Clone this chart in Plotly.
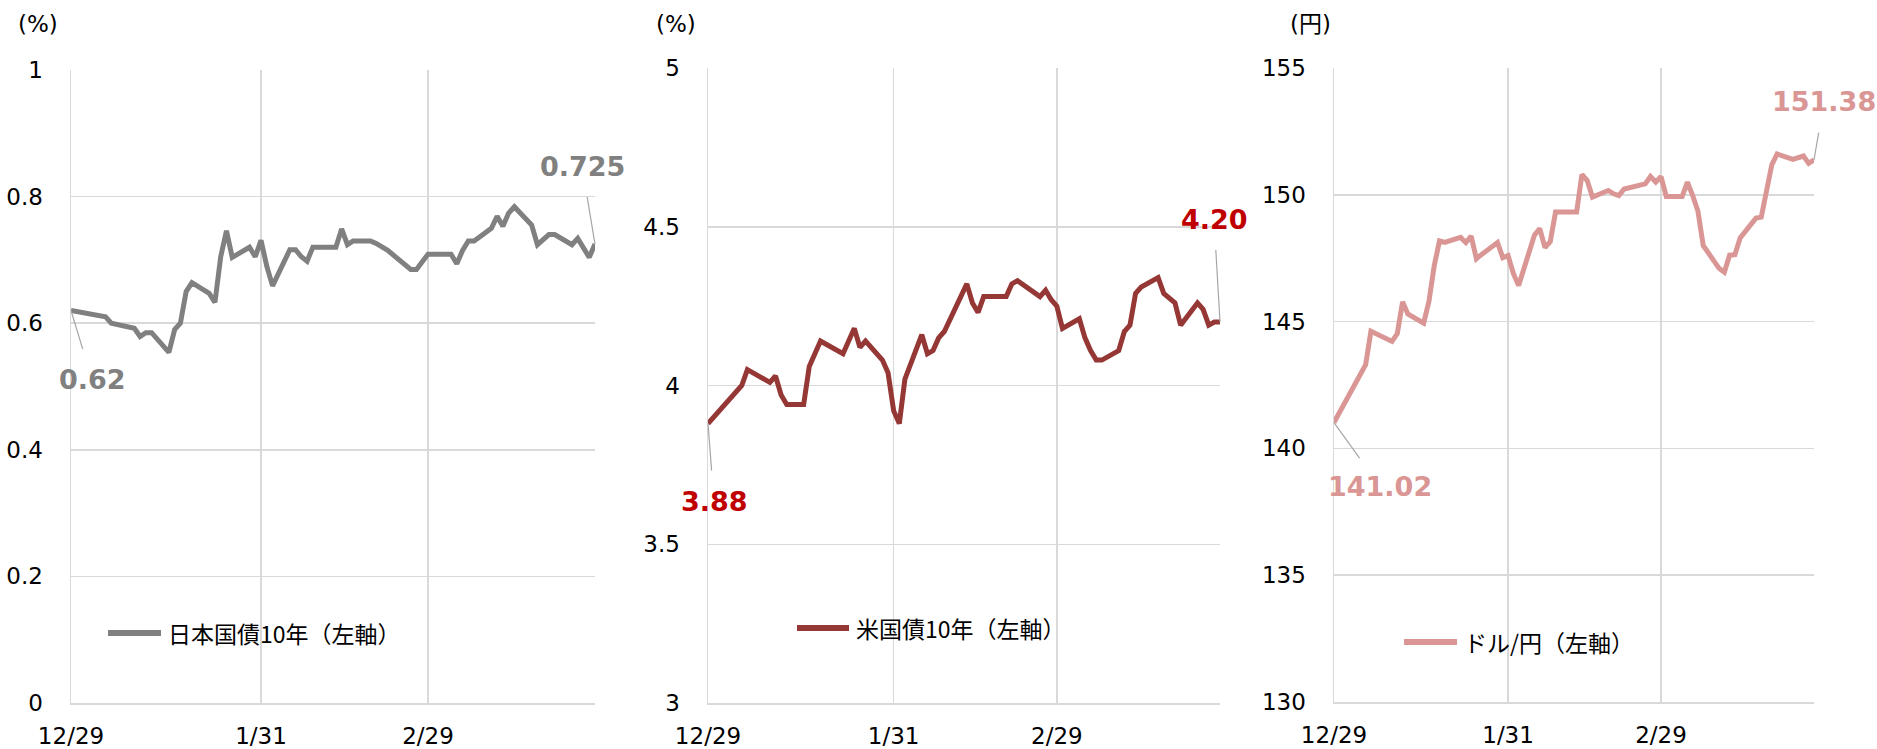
import plotly.graph_objects as go

# ---------------- data ----------------
dates = ["2023-12-29", "2024-01-04", "2024-01-05", "2024-01-09", "2024-01-10", "2024-01-11",
         "2024-01-12", "2024-01-15", "2024-01-16", "2024-01-17", "2024-01-18", "2024-01-19",
         "2024-01-22", "2024-01-23", "2024-01-24", "2024-01-25", "2024-01-26", "2024-01-29",
         "2024-01-30", "2024-01-31", "2024-02-01", "2024-02-02", "2024-02-05", "2024-02-06",
         "2024-02-07", "2024-02-08", "2024-02-09", "2024-02-13", "2024-02-14", "2024-02-15",
         "2024-02-16", "2024-02-19", "2024-02-20", "2024-02-21", "2024-02-22", "2024-02-26",
         "2024-02-27", "2024-02-28", "2024-02-29", "2024-03-01", "2024-03-04", "2024-03-05",
         "2024-03-06", "2024-03-07", "2024-03-08", "2024-03-11", "2024-03-12", "2024-03-13",
         "2024-03-14", "2024-03-15", "2024-03-18", "2024-03-19", "2024-03-21", "2024-03-22",
         "2024-03-25", "2024-03-26", "2024-03-27", "2024-03-28", "2024-03-29"]

jgb10 = [0.620, 0.610, 0.600, 0.592, 0.579, 0.585, 0.585, 0.554, 0.590, 0.600,
         0.650, 0.664, 0.647, 0.633, 0.705, 0.746, 0.704, 0.720, 0.705, 0.731,
         0.690, 0.659, 0.716, 0.716, 0.705, 0.698, 0.720, 0.720, 0.749, 0.724,
         0.730, 0.730, 0.726, 0.721, 0.715, 0.685, 0.685, 0.697, 0.709,
         0.709, 0.709, 0.694, 0.715, 0.730, 0.730, 0.750, 0.769, 0.753, 0.774,
         0.784, 0.755, 0.724, 0.740, 0.740, 0.724, 0.734, 0.720, 0.704, 0.725]

ust10 = [3.88, 4.00, 4.05, 4.01, 4.03, 3.97, 3.94, 3.94, 4.06, 4.10,
         4.14, 4.13, 4.10, 4.14, 4.18, 4.12, 4.14, 4.08, 4.04, 3.92,
         3.88, 4.02, 4.16, 4.10, 4.11, 4.15, 4.17, 4.32, 4.26, 4.23,
         4.28, 4.28, 4.28, 4.32, 4.33, 4.28, 4.30, 4.27, 4.25,
         4.18, 4.21, 4.15, 4.11, 4.08, 4.08, 4.11, 4.17, 4.19, 4.29,
         4.31, 4.34, 4.29, 4.26, 4.19, 4.26, 4.24, 4.19, 4.20, 4.20]

usdjpy = [141.02, 143.30, 144.62, 144.22, 144.53, 145.78, 145.30, 144.94, 145.80, 147.20,
          148.18, 148.12, 148.32, 148.12, 148.37, 147.48, 147.65, 148.12, 147.52, 147.60,
          146.90, 146.42, 148.41, 148.67, 147.92, 148.15, 149.32, 149.32, 150.80, 150.56,
          149.91, 150.17, 150.04, 149.97, 150.23, 150.43, 150.72, 150.50, 150.72,
          149.93, 149.93, 150.50, 149.97, 149.35, 148.00, 147.10, 146.95, 147.62, 147.64,
          148.30, 149.08, 149.12, 151.18, 151.61, 151.40, 151.45, 151.53, 151.24, 151.38]

x_tick_vals = ["2023-12-29", "2024-01-31", "2024-02-29"]
x_tick_text = ["12/29", "1/31", "2/29"]
x_range = ["2023-12-29", "2024-03-29"]

series_names = ["日本国債10年（左軸）", "米国債10年（左軸）", "ドル/円（左軸）"]
unit_labels = ["(%)", "(%)", "(円)"]
y_ticks = [[0, 0.2, 0.4, 0.6, 0.8, 1], [3, 3.5, 4, 4.5, 5], [130, 135, 140, 145, 150, 155]]
y_tick_text = [["0", "0.2", "0.4", "0.6", "0.8", "1"], ["3", "3.5", "4", "4.5", "5"],
               ["130", "135", "140", "145", "150", "155"]]
first_labels = ["0.62", "3.88", "141.02"]
last_labels = ["0.725", "4.20", "151.38"]

# ---------------- styling ----------------
W, H = 1877, 749
line_colors = ["#808080", "#953735", "#DA9694"]
label_colors = ["#808080", "#C00000", "#DA9694"]
GRID = "#D9D9D9"
NUM_FONT = "DejaVu Sans"
JP_FONT = "Noto Sans CJK JP"

# pixel frames of the three plot areas: (left, right, top, bottom)
frames = [(71, 595, 70, 703), (708, 1220, 68, 703), (1334, 1814, 68, 702)]
unit_pos = [(38, 24), (676, 24), (1310, 24)]
legend_pos = [(108, 161, 633), (797, 849, 628), (1404, 1457, 642)]
first_off = [(21, 69), (6, 78), (46, 64)]
last_off = [(-13, -78), (-6, -103), (10, -58)]


def px(x):
    return x / W


def py(y):
    return 1 - y / H


fig = go.Figure()
series = [jgb10, ust10, usdjpy]
annotations = []
shapes = []

for i in range(3):
    xa = "x" if i == 0 else f"x{i+1}"
    ya = "y" if i == 0 else f"y{i+1}"
    fig.add_trace(go.Scatter(
        x=dates, y=series[i], mode="lines", name=series_names[i],
        line=dict(color=line_colors[i], width=5), xaxis=xa, yaxis=ya,
        showlegend=False, hoverinfo="skip"))

    l, r, t, b = frames[i]
    xkey = "xaxis" if i == 0 else f"xaxis{i+1}"
    ykey = "yaxis" if i == 0 else f"yaxis{i+1}"
    fig.update_layout({
        xkey: dict(
            domain=[px(l), px(r)], anchor=ya, type="date", range=x_range,
            tickmode="array", tickvals=x_tick_vals, ticktext=x_tick_text,
            showgrid=True, gridcolor=GRID, gridwidth=1.5, automargin=False,
            showline=True, linecolor=GRID, linewidth=1.5, zeroline=False,
            ticks="", ticklabelstandoff=12, fixedrange=True,
            tickfont=dict(family=NUM_FONT, size=23, color="#000000")),
        ykey: dict(
            domain=[py(b), py(t)], anchor=xa, automargin=False,
            range=[y_ticks[i][0], y_ticks[i][-1]],
            tickmode="array", tickvals=y_ticks[i], ticktext=y_tick_text[i],
            showgrid=True, gridcolor=GRID, gridwidth=1.5,
            showline=True, linecolor=GRID, linewidth=1.5, zeroline=False,
            ticks="", ticklabelstandoff=22, fixedrange=True,
            tickfont=dict(family=NUM_FONT, size=23, color="#000000")),
    })

    # unit label
    ux, uy = unit_pos[i]
    annotations.append(dict(
        x=px(ux), y=py(uy), xref="paper", yref="paper", text=unit_labels[i],
        showarrow=False, xanchor="center", yanchor="middle",
        font=dict(family=NUM_FONT + ", " + JP_FONT, size=23, color="#000000")))

    # legend (sample line + text)
    lx0, lx1, ly = legend_pos[i]
    shapes.append(dict(type="line", xref="paper", yref="paper",
                       x0=px(lx0), x1=px(lx1), y0=py(ly), y1=py(ly),
                       line=dict(color=line_colors[i], width=6)))
    annotations.append(dict(
        x=px(lx1 + 5), y=py(ly), xref="paper", yref="paper", text=series_names[i],
        showarrow=False, xanchor="left", yanchor="middle",
        font=dict(family=JP_FONT, size=23, color="#000000")))

    # data labels for the first and last points
    for idx, txt, off in ((0, first_labels[i], first_off[i]), (-1, last_labels[i], last_off[i])):
        annotations.append(dict(
            x=dates[idx], y=series[i][idx], xref=xa, yref=ya, text=txt,
            showarrow=True, arrowhead=0, arrowwidth=1.2, arrowcolor="#A6A6A6",
            ax=off[0], ay=off[1], standoff=0, startstandoff=14,
            font=dict(family=NUM_FONT, size=27, color=label_colors[i], weight="bold")))

fig.update_layout(
    width=W, height=H, margin=dict(l=0, r=0, t=0, b=0, autoexpand=False),
    paper_bgcolor="#FFFFFF", plot_bgcolor="#FFFFFF",
    annotations=annotations, shapes=shapes, showlegend=False)

fig.write_html("out.html",
               config={"displayModeBar": False, "staticPlot": True},
               post_script="document.body.style.margin='0';document.body.style.overflow='hidden';")
